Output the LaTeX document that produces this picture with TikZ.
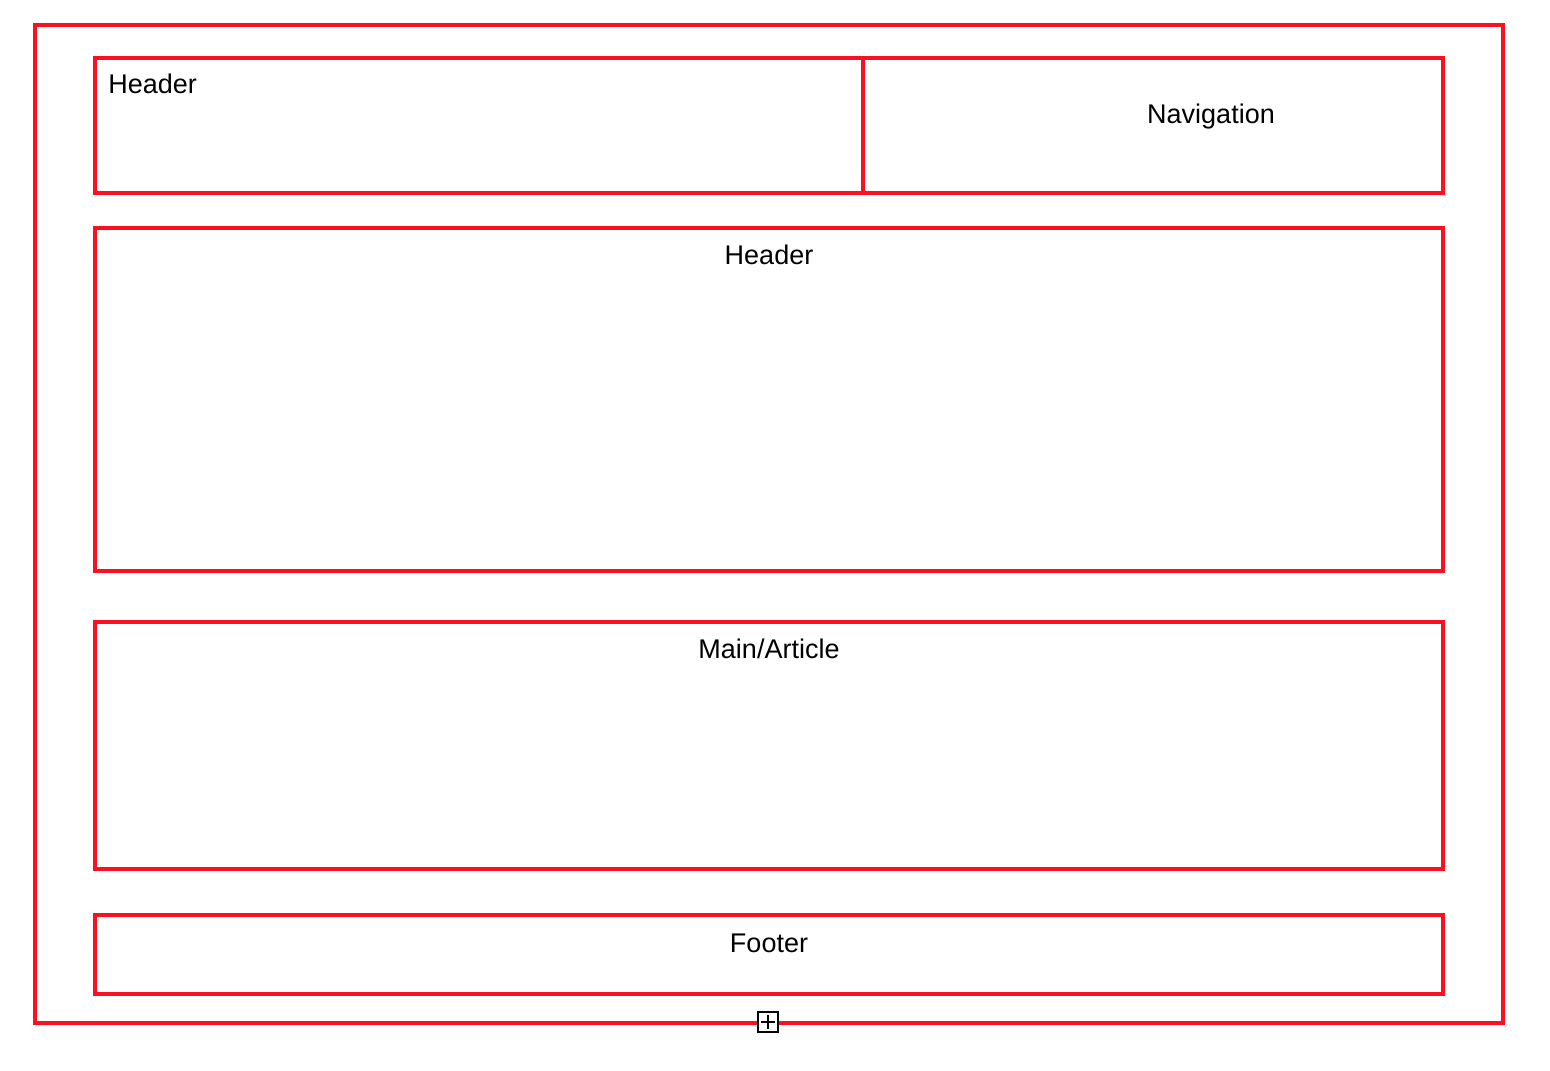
\documentclass[tikz,border=0pt]{standalone}
\usepackage{fontspec}
\setmainfont{Liberation Sans}
\definecolor{boxred}{RGB}{250,16,32}
\tikzset{
  region/.style={draw=boxred, line width=2pt, inner sep=0pt},
  lbl/.style={inner sep=0pt, font=\fontsize{13.5}{16}\selectfont},
}
\begin{document}
\begin{tikzpicture}[x=0.5pt, y=-0.5pt]
    \useasboundingbox (0, 0) rectangle (1550, 1070);

    % page and its regions
    \node[region, minimum width=734pt, minimum height=499pt] (page) at (769, 524) {};
    \node[region, minimum width=384pt, minimum height=67.5pt] (hdrsmall) at (479, 125.5) {};
    \node[region, minimum width=290pt, minimum height=67.5pt] (nav) at (1153, 125.5) {};
    \node[region, minimum width=674pt, minimum height=171.5pt] (hdrbig) at (769, 399.5) {};
    \node[region, minimum width=674pt, minimum height=123.5pt] (main) at (769, 745.5) {};
    \node[region, minimum width=674pt, minimum height=39.5pt] (footer) at (769, 954.5) {};

    \node[lbl, anchor=base west] (hdrsmalltxt) at (108, 94) {Header};
    \node[lbl, anchor=base] (navtxt) at (1211, 123.5) {Navigation};
    \node[lbl, anchor=base] (hdrbigtxt) at (769, 264) {Header};
    \node[lbl, anchor=base] (maintxt) at (769, 658) {Main/Article};
    \node[lbl, anchor=base] (footertxt) at (769, 952) {Footer};

    % handle on the page edge
    \node[draw=black, fill=white, line width=1pt, minimum size=10pt, inner sep=0pt] (handle) at (768, 1022) {};
    \draw[line width=1pt] ([xshift=-3.5pt]handle.center) -- ([xshift=3.5pt]handle.center);
    \draw[line width=1pt] ([yshift=-3.5pt]handle.center) -- ([yshift=3.5pt]handle.center);
  \end{tikzpicture}
\end{document}
